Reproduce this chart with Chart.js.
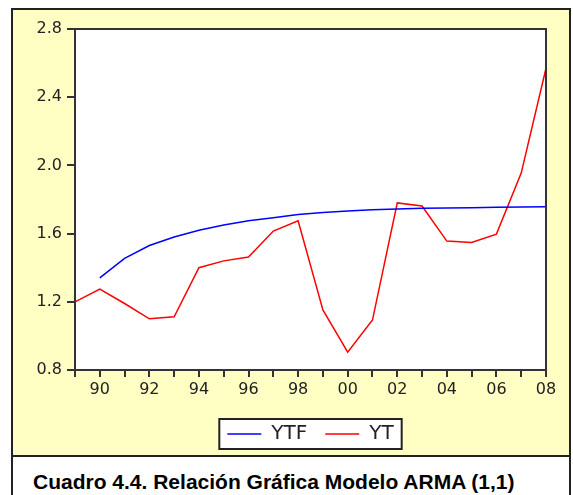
<!DOCTYPE html>
<html>
<head>
<meta charset="utf-8">
<script src="https://cdn.jsdelivr.net/npm/chart.js@4/dist/chart.umd.min.js"></script>
<style>
  html, body { margin: 0; padding: 0; background: #fff; }
  #page { position: relative; width: 573px; height: 495px; overflow: hidden; }
  #frame {
    position: absolute; left: 11px; top: 8px; width: 560px; height: 500px;
    border: 2px solid #222; box-sizing: border-box; background: #fff;
  }
  #panel {
    position: absolute; left: 0; top: 0; right: 0; height: 445px;
    background: #ffffc4; border-bottom: 2px solid #222;
  }
  #caption {
    position: absolute; left: 33px; top: 470px; line-height: 21px;
    font: bold 21px "Liberation Sans", Arial, sans-serif; color: #000;
  }
  #chart { position: absolute; left: 0; top: 0; }
</style>
</head>
<body>
<div id="page">
  <div id="frame"><div id="panel"></div></div>
  <div id="caption">Cuadro 4.4. Relación Gráfica Modelo ARMA (1,1)</div>
  <canvas id="chart" width="573" height="495"></canvas>
</div>
<script>
// Years on the x axis (1989 - 2008)
const years = [1989, 1990, 1991, 1992, 1993, 1994, 1995, 1996, 1997, 1998,
               1999, 2000, 2001, 2002, 2003, 2004, 2005, 2006, 2007, 2008];

// Forecast (fitted) series - starts in 1990
const ytf = [null, 1.34, 1.455, 1.53, 1.58, 1.62, 1.65, 1.675, 1.693, 1.712,
             1.724, 1.733, 1.74, 1.744, 1.748, 1.75, 1.752, 1.755, 1.756, 1.757];

// Actual series
const yt = [1.20, 1.275, 1.19, 1.10, 1.112, 1.40, 1.44, 1.463, 1.615, 1.675,
            1.152, 0.905, 1.093, 1.78, 1.762, 1.556, 1.548, 1.597, 1.955, 2.57];

// white plot box with a dark frame
const plotBox = {
    id: 'plotBox',
    beforeDatasetsDraw(chart) {
        const a = chart.chartArea;
        const ctx = chart.ctx;
        ctx.save();
        ctx.fillStyle = '#ffffff';
        ctx.fillRect(a.left, a.top, a.right - a.left, a.bottom - a.top);
        ctx.restore();
    },
    afterDatasetsDraw(chart) {
        const a = chart.chartArea;
        const ctx = chart.ctx;
        ctx.save();
        ctx.strokeStyle = '#333333';
        ctx.lineWidth = 2;
        ctx.strokeRect(a.left, a.top, a.right - a.left, a.bottom - a.top);
        ctx.restore();
    }
};

// box round the legend items
const legendBox = {
    id: 'legendBox',
    beforeDraw(chart) {
        const boxes = chart.legend.legendHitBoxes;
        if (!boxes || !boxes.length) return;
        const first = boxes[0];
        const last = boxes[boxes.length - 1];
        const x0 = first.left - 8;
        const x1 = last.left + last.width + 8;
        const cy = first.top + first.height / 2;
        const ctx = chart.ctx;
        ctx.save();
        ctx.fillStyle = '#ffffff';
        ctx.fillRect(x0, cy - 15, x1 - x0, 30);
        ctx.strokeStyle = '#222222';
        ctx.lineWidth = 2;
        ctx.strokeRect(x0, cy - 15, x1 - x0, 30);
        ctx.restore();
    }
};

new Chart(document.getElementById('chart').getContext('2d'), {
    type: 'line',
    data: {
        labels: years,
        datasets: [
            {
                label: 'YTF',
                data: ytf,
                borderColor: '#0000ff',
                borderWidth: 1.5,
                pointRadius: 0,
                tension: 0
            },
            {
                label: 'YT',
                data: yt,
                borderColor: '#ff0000',
                borderWidth: 1.5,
                pointRadius: 0,
                tension: 0
            }
        ]
    },
    options: {
        responsive: false,
        animation: false,
        layout: { padding: { top: 29, right: 27, left: 0, bottom: 41 } },
        scales: {
            x: {
                offset: false,
                grid: { drawOnChartArea: false, color: '#333333', tickLength: 7, lineWidth: 2 },
                border: { color: '#333333', width: 2 },
                ticks: {
                    autoSkip: false,
                    maxRotation: 0,
                    padding: 3,
                    color: '#222222',
                    font: { family: 'DejaVu Sans', size: 16 },
                    callback: (v, i) => years[i] % 2 === 0 ? String(years[i]).slice(2) : ''
                },
                afterFit: (s) => { s.height = 36; }
            },
            y: {
                min: 0.8,
                max: 2.8,
                grid: { drawOnChartArea: false, color: '#333333', tickLength: 8, lineWidth: 2 },
                border: { color: '#333333', width: 2 },
                ticks: {
                    stepSize: 0.4,
                    padding: 5,
                    color: '#222222',
                    font: { family: 'DejaVu Sans', size: 16 },
                    callback: (v) => v.toFixed(1)
                },
                afterFit: (s) => { s.width = 75; }
            }
        },
        plugins: {
            legend: {
                position: 'bottom',
                fullSize: false,
                labels: {
                    usePointStyle: true,
                    pointStyle: 'line',
                    pointStyleWidth: 34,
                    padding: 18,
                    color: '#222222',
                    font: { family: 'DejaVu Sans', size: 20 }
                }
            },
            tooltip: { enabled: false }
        }
    },
    plugins: [plotBox, legendBox]
});
</script>
</body>
</html>
